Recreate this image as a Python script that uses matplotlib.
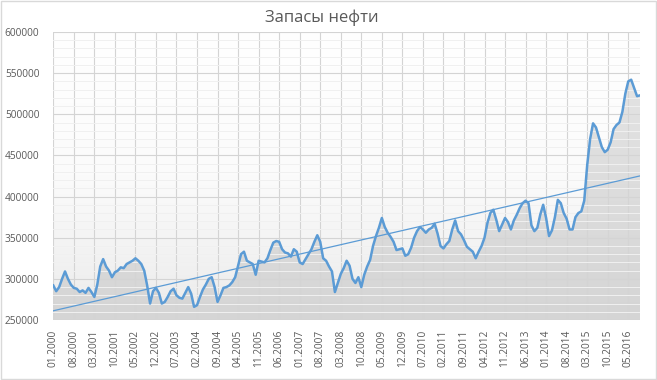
import numpy as np
import matplotlib
matplotlib.use('Agg')
import matplotlib.pyplot as plt
from matplotlib.patches import Polygon, Rectangle
from matplotlib.colors import LinearSegmentedColormap
from matplotlib.ticker import MultipleLocator, FuncFormatter

plt.rcParams['font.family'] = ['Open Sans', 'DejaVu Sans']

# oil stocks, thousands of barrels, one value per month from 01.2000
stocks_k = [
    292, 285, 290, 300, 309, 300, 293, 289, 288, 284,
    286, 283, 289, 284, 278, 293, 315, 324, 315, 310,
    302, 308, 310, 314, 313, 318, 320, 322, 325, 322,
    318, 310, 292, 270, 285, 289, 283, 270, 272, 278,
    285, 288, 280, 277, 276, 283, 290, 282, 266, 268,
    278, 287, 293, 300, 302, 290, 272, 280, 289, 290,
    292, 296, 302, 316, 330, 333, 322, 320, 318, 305,
    322, 321, 320, 325, 335, 344, 346, 345, 336, 332,
    331, 327, 336, 333, 320, 318, 324, 330, 336, 345,
    353, 345, 325, 322, 315, 309, 284, 295, 306, 313,
    322, 316, 300, 295, 302, 290, 305, 315, 323, 340,
    352, 362, 374, 363, 356, 351, 345, 335, 336, 337,
    328, 330, 338, 350, 358, 363, 360, 356, 360, 362,
    367, 355, 340, 337, 342, 346, 360, 371, 358, 354,
    347, 339, 336, 333, 325, 333, 340, 350, 368, 380,
    384, 372, 358, 366, 374, 369, 360, 371, 378, 386,
    392, 395, 392, 365, 358, 362, 378, 390, 374, 352,
    359, 375, 396, 392, 380, 373, 360, 360, 375, 380,
    382, 395, 438, 470, 489, 484, 472, 460, 454, 457,
    466, 482, 487, 490, 503, 525, 540, 542, 532, 522,
    523,
]

tick_labels = [
    '01.2000', '08.2000', '03.2001', '10.2001', '05.2002', '12.2002',
    '07.2003', '02.2004', '09.2004', '04.2005', '11.2005', '06.2006',
    '01.2007', '08.2007', '03.2008', '10.2008', '05.2009', '12.2009',
    '07.2010', '02.2011', '09.2011', '04.2012', '11.2012', '06.2013',
    '01.2014', '08.2014', '03.2015', '10.2015', '05.2016',
]
tick_step = 7  # months between labels

values = np.array(stocks_k) * 1000
x = np.arange(len(values))
ymin, ymax = 250000, 600000

fig = plt.figure(figsize=(6.57, 3.80), dpi=100)
ax = fig.add_axes([0.0811, 0.1579, 0.9741 - 0.0811, 0.9158 - 0.1579])
fig.patches.append(Rectangle((0.001, 0.002), 0.997, 0.995, transform=fig.transFigure,
                             fill=False, edgecolor='#d9d9d9', linewidth=1.0))

# gradient, row 0 = top of plot
grad = np.linspace(0, 1, 256).reshape(-1, 1)
ext = [x[0], x[-1], ymin, ymax]

# plot area background: white at top, light grey lower down
bg_cmap = LinearSegmentedColormap.from_list('bg', ['#ffffff', '#fbfbfb', '#ebebeb'])
ax.imshow(grad, extent=ext, origin='upper', aspect='auto', cmap=bg_cmap, zorder=0)

# area under the series, gradient clipped to the polygon
area_cmap = LinearSegmentedColormap.from_list('area', ['#e6e6e6', '#d5d5d5'])
im = ax.imshow(grad, extent=ext, origin='upper', aspect='auto', cmap=area_cmap, zorder=1)
verts = np.vstack([np.column_stack([x, values]), [[x[-1], ymin], [x[0], ymin]]])
poly = Polygon(verts, closed=True, facecolor='none', edgecolor='none')
ax.add_patch(poly)
im.set_clip_path(poly)

ax.plot(x, values, color='#5b9bd5', linewidth=1.8, zorder=4, solid_joinstyle='round')

# linear trend line
k, b = np.polyfit(x, values, 1)
ax.plot(x, k * x + b, color='#5b9bd5', linewidth=0.9, zorder=4)

ax.set_xlim(x[0], x[-1])
ax.set_ylim(ymin, ymax)
ax.set_xticks(np.arange(len(tick_labels)) * tick_step)
ax.set_xticklabels(tick_labels, rotation=90)
ax.yaxis.set_major_locator(MultipleLocator(50000))
ax.yaxis.set_minor_locator(MultipleLocator(10000))
ax.yaxis.set_major_formatter(FuncFormatter(lambda v, p: '%d' % v))

ax.grid(True, which='major', color='#d4d4d4', linewidth=0.8, zorder=3)
ax.grid(True, which='minor', axis='y', color='#f0f0f0', linewidth=0.7, zorder=2)
ax.set_axisbelow(False)
for s in ax.spines.values():
    s.set_visible(False)
ax.tick_params(axis='both', which='both', length=0, labelsize=7.3, labelcolor='#595959')
ax.tick_params(axis='y', pad=10)
ax.tick_params(axis='x', pad=7)

fig.text(0.49, 0.953, 'Запасы нефти', ha='center', va='center', fontsize=12, color='#595959')

fig.savefig('out.png', dpi=100)
